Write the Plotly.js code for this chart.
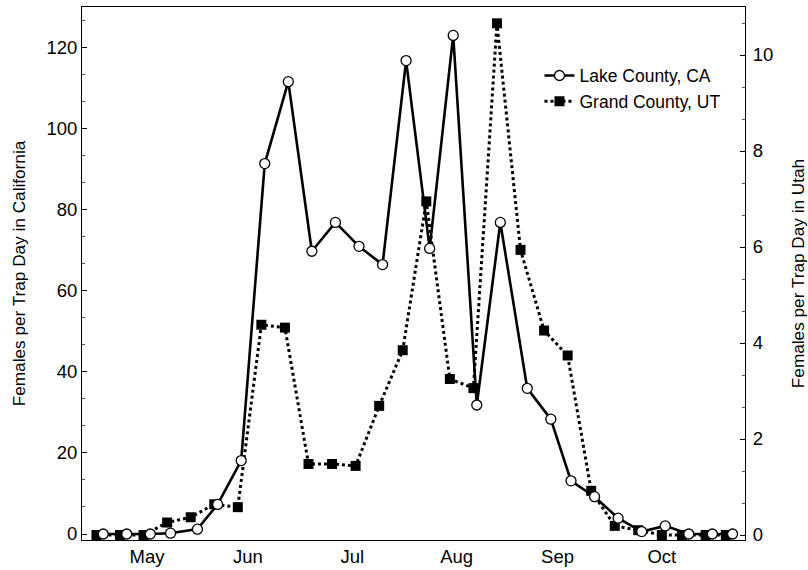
<!DOCTYPE html>
<html>
<head>
<meta charset="utf-8">
<script src="https://cdn.plot.ly/plotly-3.0.1.min.js"></script>
<style>html,body{margin:0;padding:0;background:#fff}#chart{width:808px;height:570px}</style>
</head>
<body>
<div id="chart"></div>
<script>
// Day of year of each sampling date
const dayCA = [123,130,137,143,151,157,164,171,178,185,192,199,206,213,220,227,234,241,249,256,262,269,276,283,290,297,304,310];
const lakeCA = [0,0,0,0.2,1.2,7.3,18.1,91.3,111.5,69.7,76.8,70.9,66.4,116.7,70.4,122.9,31.8,76.8,35.9,28.3,13.1,9.2,3.9,0.6,2.0,0,0,0];
const dayUT = [121,128,135,142,149,156,163,170,177,184,191,198,205,212,219,226,233,240,247,254,261,268,275,282,289,295,302,308];
const grandUT = [0,0,0,0.26,0.37,0.64,0.58,4.38,4.32,1.48,1.48,1.44,2.69,3.85,6.95,3.25,3.06,10.66,5.94,4.26,3.74,0.92,0.19,0.10,0,0,0,0];
const monthDays = [136,166,197,228,258,289];
const monthLabels = ['May','Jun','Jul','Aug','Sep','Oct'];

const FONT = 'Liberation Sans, Arial, sans-serif';
const PAD = '\u00a0\u00a0\u00a0\u00a0';

const traces = [
  {
    x: dayCA, y: lakeCA, yaxis: 'y2', name: 'Lake County, CA',
    mode: 'lines+markers',
    line: {color: '#000', width: 2.6},
    marker: {symbol: 'circle', size: 10, color: '#fff', line: {color: '#000', width: 1.3}}
  },
  {
    x: dayUT, y: grandUT, yaxis: 'y', name: 'Grand County, UT',
    mode: 'lines+markers',
    line: {color: '#000', width: 3, dash: 'dot'},
    marker: {symbol: 'square', size: 10, color: '#000', line: {color: '#000', width: 0}}
  }
];

const layout = {
  width: 808, height: 570,
  margin: {l: 82, r: 63, t: 7, b: 30},
  paper_bgcolor: '#fff', plot_bgcolor: '#fff',
  font: {family: FONT, color: '#000', size: 18},
  showlegend: true,
  legend: {
    x: 0.69, y: 0.905, xanchor: 'left', yanchor: 'top',
    bgcolor: 'rgba(0,0,0,0)', borderwidth: 0,
    font: {family: FONT, size: 17.5, color: '#000'},
    tracegroupgap: 0
  },
  xaxis: {
    range: [116.7, 313.7],
    tickmode: 'array', tickvals: monthDays, ticktext: monthLabels,
    ticks: '', showgrid: false, zeroline: false,
    showline: true, mirror: true, linecolor: '#000', linewidth: 1,
    tickfont: {family: FONT, size: 18.5, color: '#000'}
  },
  yaxis: {
    side: 'right',
    range: [-0.104, 11.0], tick0: 0, dtick: 2,
    ticks: 'inside', ticklen: 5, tickcolor: '#000',
    ticklabelstandoff: 3,
    minor: {dtick: 2/3, tick0: 0, ticks: 'inside', ticklen: 3, tickcolor: '#555', showgrid: false},
    showgrid: false, zeroline: false,
    showline: true, linecolor: '#000', linewidth: 1,
    tickfont: {family: FONT, size: 18.5, color: '#000'},
    title: {text: 'Females per Trap Day in Utah' + PAD, font: {family: FONT, size: 17.2, color: '#000'}, standoff: 22}
  },
  yaxis2: {
    overlaying: 'y', side: 'left',
    range: [-1.48, 129.9], tick0: 0, dtick: 20,
    ticks: 'inside', ticklen: 5, tickcolor: '#000',
    minor: {dtick: 20/3, tick0: 0, ticks: 'inside', ticklen: 3, tickcolor: '#555', showgrid: false},
    showgrid: false, zeroline: false,
    showline: true, linecolor: '#000', linewidth: 1,
    tickfont: {family: FONT, size: 18.5, color: '#000'},
    title: {text: 'Females per Trap Day in California' + PAD, font: {family: FONT, size: 17.2, color: '#000'}, standoff: 16}
  }
};

Plotly.newPlot('chart', traces, layout, {displayModeBar: false, staticPlot: true});
</script>
</body>
</html>
